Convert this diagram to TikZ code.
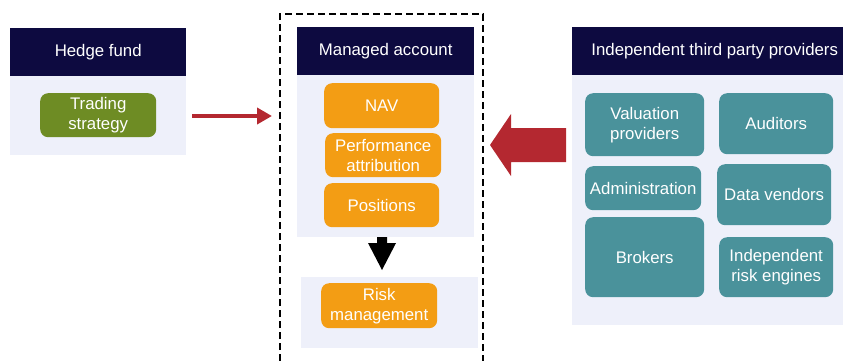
\documentclass[tikz,border=0pt]{standalone}
\usepackage{fontspec}
\setmainfont{Liberation Sans}
\usetikzlibrary{arrows.meta}
\begin{document}
\definecolor{navy}{RGB}{13,10,64}
\definecolor{panel}{RGB}{238,240,250}
\definecolor{olive}{RGB}{110,140,36}
\definecolor{amber}{RGB}{243,157,20}
\definecolor{teal}{RGB}{74,146,155}
\definecolor{crimson}{RGB}{180,40,48}
\begin{tikzpicture}[x=1pt,y=-1pt,
  header/.style={fill=navy,text=white,inner sep=0pt,anchor=north west,
    font=\fontsize{16.8}{20}\selectfont},
  body/.style={fill=panel,inner sep=0pt,anchor=north west},
  tile/.style={rounded corners=8pt,text=white,inner sep=0pt,align=center,
    anchor=north west,font=\fontsize{16.8}{20}\selectfont},
  greentile/.style={tile,fill=olive},
  orangetile/.style={tile,fill=amber},
  tealtile/.style={tile,fill=teal}]
\useasboundingbox (0,0) rectangle (843,360);

% Hedge fund panel
\node[body,minimum width=176pt,minimum height=79pt] (hfbody) at (10,76) {};
\node[header,minimum width=176pt,minimum height=48pt] (hfhead) at (10,28) {Hedge fund};
\node[greentile,minimum width=116pt,minimum height=44pt] (trading) at (40,93) {Trading\\strategy};

% Managed account (dashed frame)
\draw[line width=1.8pt,dash pattern=on 7pt off 4pt] (280,372) -- (280,14) -- (483,14) -- (483,372);
\coordinate (mafront) at (272,116);
\coordinate (hfout) at (192,116);
\node[body,minimum width=177pt,minimum height=162pt] (mabody) at (297,75) {};
\node[header,minimum width=177pt,minimum height=48pt] (mahead) at (297,27) {Managed account};
\node[orangetile,minimum width=115pt,minimum height=45pt] (nav) at (324,83) {NAV};
\node[orangetile,minimum width=116pt,minimum height=44pt] (perf) at (325,133) {Performance\\attribution};
\node[orangetile,minimum width=115pt,minimum height=44pt] (pos) at (324,183) {Positions};
\node[body,minimum width=177pt,minimum height=71pt] (riskbody) at (301,277) {};
\node[orangetile,minimum width=116pt,minimum height=45pt] (risk) at (321,283) {Risk\\management};

% Independent third party providers panel
\node[body,minimum width=271pt,minimum height=250pt] (tpbody) at (572,75) {};
\node[header,minimum width=271pt,minimum height=48pt] (tphead) at (572,27) {};
\node[text=white,inner sep=0pt,font=\fontsize{16.8}{20}\selectfont]
  (tptitle) at ([xshift=7pt]tphead.center) {Independent third party providers};
\node[tealtile,minimum width=119pt,minimum height=63pt] (valuation) at (585,93) {Valuation\\providers};
\node[tealtile,minimum width=114pt,minimum height=61pt] (auditors) at (719,93) {Auditors};
\node[tealtile,minimum width=116pt,minimum height=44pt] (admin) at (585,166) {Administration};
\node[tealtile,minimum width=114pt,minimum height=61pt] (data) at (717,164) {Data vendors};
\node[tealtile,minimum width=119pt,minimum height=80pt] (brokers) at (585,217) {Brokers};
\node[tealtile,minimum width=114pt,minimum height=60pt] (engines) at (719,237) {Independent\\risk engines};

% Hedge fund -> managed account
\draw[crimson,line width=4pt,-{Triangle[length=15pt,width=16pt]}] (hfout) -- (mafront);

% Providers -> managed account (block arrow)
\fill[crimson] (566,128) -- (511,128) -- (511,114) -- (490,145)
  -- (511,176) -- (511,162) -- (566,162) -- cycle;

% Managed account -> risk management (block arrow)
\fill[black] (377,237) -- (387,237) -- (387,243) -- (396,243) -- (382,270)
  -- (368,243) -- (377,243) -- cycle;
\end{tikzpicture}
\end{document}
